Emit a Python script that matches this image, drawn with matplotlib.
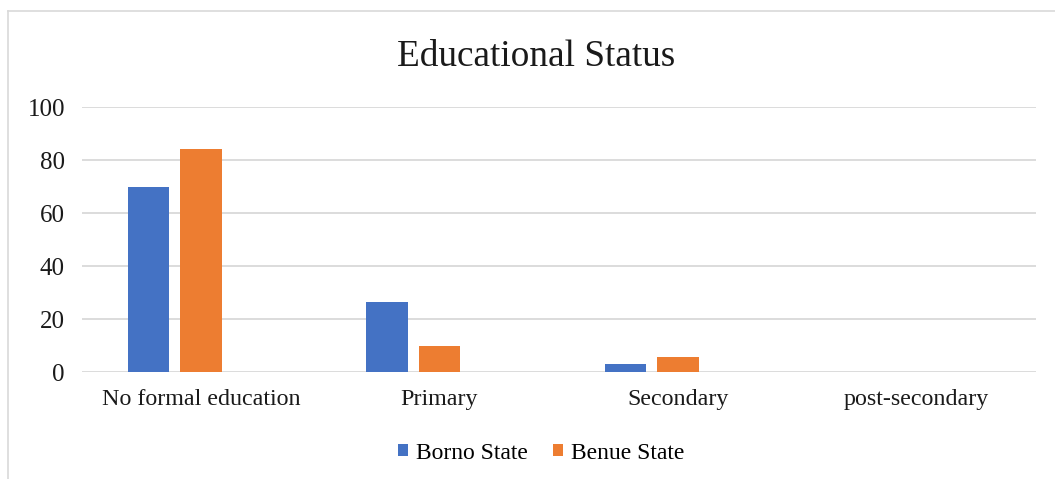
import numpy as np
import matplotlib
matplotlib.use("Agg")
import matplotlib.pyplot as plt
from matplotlib.lines import Line2D

# survey shares (%) by highest level of education
categories = ["No formal education", "Primary", "Secondary", "post-secondary"]
borno = [70.0, 26.7, 3.3, 0.0]
benue = [84.3, 9.8, 5.9, 0.0]
series_names = ["Borno State", "Benue State"]
colors = ["#4472C4", "#ED7D31"]

plt.rcParams["font.family"] = ["Liberation Serif", "DejaVu Serif"]

fig = plt.figure(figsize=(10.55, 4.79), dpi=100)
ax = fig.add_axes([0.0774, 0.2227, 0.9043, 0.5533])

x = np.arange(len(categories))
width = 0.174
offset = 0.22
ax.bar(x - offset, borno, width, color=colors[0], label=series_names[0], zorder=3)
ax.bar(x, benue, width, color=colors[1], label=series_names[1], zorder=3)

ax.set_xlim(-0.5, len(categories) - 0.5)
ax.set_ylim(0, 100)
ax.set_yticks(range(0, 101, 20))
ax.set_xticks(x)
ax.set_xticklabels(categories)
ax.tick_params(axis="x", length=0, labelsize=17.3, colors="#1a1a1a", pad=12)
ax.tick_params(axis="y", length=0, labelsize=18, colors="#1a1a1a", pad=12)
ax.grid(axis="y", color="#D9D9D9", linewidth=1.3, zorder=0)
for s in ax.spines.values():
    s.set_visible(False)

fig.text(0.508, 0.882, "Educational Status", ha="center", va="center", fontsize=26.8, color="#1a1a1a")

ax.legend(loc="center", bbox_to_anchor=(0.513, 0.054), bbox_transform=fig.transFigure,
          ncol=2, frameon=False, fontsize=17, handlelength=0.42, handleheight=0.42,
          handletextpad=0.34, columnspacing=1.1)

# chart frame (top and left edges)
W, H = 1055, 479
fig.add_artist(Line2D([8 / W, 1.0], [1 - 11 / H, 1 - 11 / H], transform=fig.transFigure,
                      color="#D9D9D9", linewidth=1.2))
fig.add_artist(Line2D([8 / W, 8 / W], [0, 1 - 11 / H], transform=fig.transFigure,
                      color="#D9D9D9", linewidth=1.2))

fig.savefig("out.png", dpi=100, facecolor="white")
